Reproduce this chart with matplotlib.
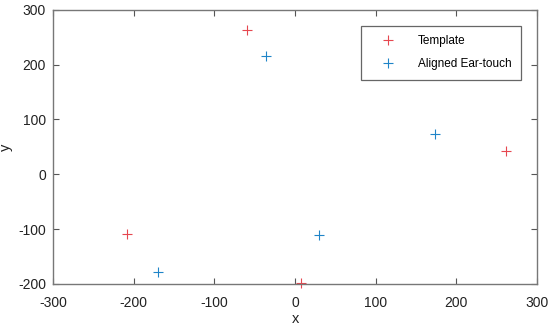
import numpy as np
import matplotlib.pyplot as plt

plt.rcParams['font.family'] = ['Liberation Sans', 'DejaVu Sans']
plt.rcParams['axes.unicode_minus'] = False

# Puntos de la plantilla y de la oreja alineada
template_x = [-60, 261, -208, 7]
template_y = [264, 43, -109, -198]
aligned_x = [-36, 174, 30, -170]
aligned_y = [216, 74, -111, -178]

fig = plt.figure(figsize=(5.5, 3.29), dpi=100)
ax = fig.add_axes([0.0964, 0.137, 0.88, 0.833])

ax.plot(template_x, template_y, '+', color='#e6474f', markersize=7, markeredgewidth=0.8,
        label='Template', clip_on=False)
ax.plot(aligned_x, aligned_y, '+', color='#1f84c8', markersize=7, markeredgewidth=0.8,
        label='Aligned Ear-touch', clip_on=False)

ax.set_xlim(-300, 300)
ax.set_ylim(-200, 300)
ax.set_xticks(np.arange(-300, 301, 100))
ax.set_yticks(np.arange(-200, 301, 100))
ax.tick_params(direction='in', top=True, right=True, length=4, width=0.8,
               color='#555555', labelsize=10, labelcolor='#222222')
ax.tick_params(axis='x', pad=9)
ax.tick_params(axis='y', pad=5)
for s in ax.spines.values():
    s.set_color('#777777')
    s.set_linewidth(1.0)

ax.set_xlabel('x', fontsize=10.5, labelpad=1, color='#222222')
ax.set_ylabel('y', fontsize=10.5, color='#222222')
ax.yaxis.set_label_coords(-0.082, 0.5)

leg = ax.legend(loc='upper right', bbox_to_anchor=(0.967, 0.942), borderaxespad=0,
                fancybox=False, edgecolor='#666666', framealpha=1, fontsize=8.5,
                handlelength=3.0, handletextpad=1.0, borderpad=0.8, labelspacing=0.95)
leg.get_frame().set_linewidth(0.9)

fig.savefig('out.png', dpi=100)
